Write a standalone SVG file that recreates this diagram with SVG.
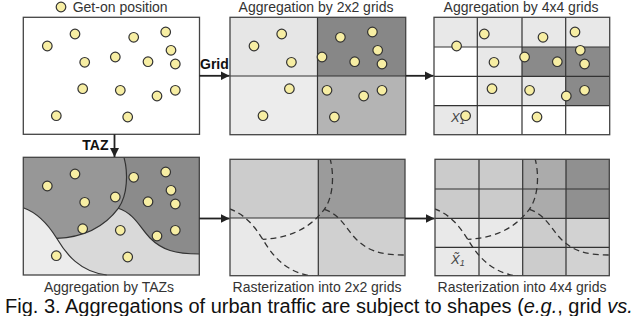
<svg xmlns="http://www.w3.org/2000/svg" width="640" height="316" viewBox="0 0 640 316">
<style>
.lbl{font-family:"Liberation Sans",Arial,sans-serif;font-size:14px;fill:#333}
.bold{font-family:"Liberation Sans",Arial,sans-serif;font-size:14px;font-weight:bold;fill:#111}
.cap{font-family:"Liberation Sans",Arial,sans-serif;font-size:20px;fill:#111}
.var{font-family:"Liberation Sans",Arial,sans-serif;font-size:13px;font-style:italic;fill:#444}
.frame{fill:none;stroke:#444;stroke-width:1.3}
.gl{stroke:#333;stroke-width:1.2;fill:none}
.pt{fill:#f7eea3;stroke:#333;stroke-width:1.2}
.taz{fill:none;stroke:#333;stroke-width:1.2}
.dash{fill:none;stroke:#333;stroke-width:1.3;stroke-dasharray:6 4}
.arr{stroke:#222;stroke-width:1.8;fill:none}
</style>
<defs>
<marker id="ah" viewBox="0 0 10 10" refX="10" refY="5" markerWidth="5" markerHeight="5" markerUnits="strokeWidth" orient="auto">
<path d="M0,0 L10,5 L0,10 z" fill="#222"/>
</marker>
<g id="pts">
<circle class="pt" cx="47.3" cy="46" r="4.8"/>
<circle class="pt" cx="75" cy="34" r="4.8"/>
<circle class="pt" cx="133.7" cy="37.3" r="4.8"/>
<circle class="pt" cx="165.7" cy="32" r="4.8"/>
<circle class="pt" cx="171" cy="50.3" r="4.8"/>
<circle class="pt" cx="115.3" cy="57" r="4.8"/>
<circle class="pt" cx="84.7" cy="62.3" r="4.8"/>
<circle class="pt" cx="148" cy="61.7" r="4.8"/>
<circle class="pt" cx="175.3" cy="64" r="4.8"/>
<circle class="pt" cx="82.7" cy="88.7" r="4.8"/>
<circle class="pt" cx="120.3" cy="90.3" r="4.8"/>
<circle class="pt" cx="157" cy="96" r="4.8"/>
<circle class="pt" cx="175.3" cy="90.3" r="4.8"/>
<circle class="pt" cx="56.3" cy="115.7" r="4.8"/>
<circle class="pt" cx="127.7" cy="117" r="4.8"/>
</g>
<g id="curves">
<path d="M124,157.3 C128,172 128,195 118.3,208.3 C108,222 90,237 56.7,238.3"/>
<path d="M23.3,207.7 C38,213 48,224 56.7,238.3 C66,254 80,272 106.7,275"/>
<path d="M118.3,208.3 C135,214 140,228 150,238 C162,250 175,254 199.3,254"/>
</g>
<clipPath id="cR2"><rect x="230" y="159.3" width="175" height="116.4"/></clipPath>
<clipPath id="cR4"><rect x="435" y="159.3" width="174.3" height="116.4"/></clipPath>
</defs>
<rect width="640" height="316" fill="#fff"/>

<g id="legend">
<circle class="pt" cx="61" cy="7" r="4.8"/>
<text class="lbl" x="72.7" y="12">Get-on position</text>
</g>

<g id="panel-points">
<rect x="23.3" y="17.3" width="176.2" height="117" fill="#fff"/>
<use href="#pts"/>
<rect class="frame" x="23.3" y="17.3" width="176.2" height="117"/>
</g>

<g id="panel-grid2">
<text class="lbl" x="316" y="12" text-anchor="middle">Aggregation by 2x2 grids</text>
<rect x="230" y="17.3" width="87.5" height="58.7" fill="#e6e6e6"/>
<rect x="317.5" y="17.3" width="88.2" height="58.7" fill="#878787"/>
<rect x="230" y="76" width="87.5" height="58.7" fill="#ececec"/>
<rect x="317.5" y="76" width="88.2" height="58.7" fill="#b4b4b4"/>
<path class="gl" d="M317.5,17.3 V134.7 M230,76 H405.7"/>
<use href="#pts" transform="translate(206.7,0)"/>
<rect class="frame" x="230" y="17.3" width="175.7" height="117.4"/>
</g>

<g id="panel-grid4">
<text class="lbl" x="521" y="12" text-anchor="middle">Aggregation by 4x4 grids</text>
<rect x="434" y="17.3" width="175.7" height="117.4" fill="#fff"/>
<rect x="434" y="17.3" width="175.7" height="29.7" fill="#e8e8e8"/>
<rect x="477.3" y="47" width="44.7" height="58.7" fill="#e8e8e8"/>
<rect x="522" y="47" width="87.7" height="29.3" fill="#8a8a8a"/>
<rect x="565.7" y="76.3" width="44" height="29.4" fill="#8a8a8a"/>
<rect x="522" y="76.3" width="43.7" height="29.4" fill="#e8e8e8"/>
<rect x="434" y="105.7" width="43.3" height="29" fill="#e8e8e8"/>
<text class="var" x="451" y="122">X<tspan font-size="9" dy="2">1</tspan></text>
<path class="gl" d="M477.3,17.3 V134.7 M522,17.3 V134.7 M565.7,17.3 V134.7 M434,47 H609.7 M434,76.3 H609.7 M434,105.7 H609.7"/>
<use href="#pts" transform="translate(409.3,0)"/>
<rect class="frame" x="434" y="17.3" width="175.7" height="117.4"/>
</g>

<g id="panel-taz">
<rect x="23.3" y="157.3" width="176" height="117.7" fill="#d9d9d9"/>
<path d="M23.3,157.3 L124,157.3 C128,172 128,195 118.3,208.3 C108,222 90,237 56.7,238.3 C48,224 38,213 23.3,207.7 Z" fill="#979797"/>
<path d="M124,157.3 L199.3,157.3 L199.3,254 C175,254 162,250 150,238 C140,228 135,214 118.3,208.3 C128,195 128,172 124,157.3 Z" fill="#8b8b8b"/>
<path d="M23.3,207.7 C38,213 48,224 56.7,238.3 C66,254 80,272 106.7,275 L23.3,275 Z" fill="#ececec"/>
<use href="#curves" class="taz"/>
<use href="#pts" transform="translate(0,140)"/>
<rect class="frame" x="23.3" y="157.3" width="176" height="117.7"/>
<text class="lbl" x="109" y="291.5" text-anchor="middle">Aggregation by TAZs</text>
</g>

<g id="panel-raster2">
<rect x="230" y="159.3" width="88.3" height="58.7" fill="#cccccc"/>
<rect x="318.3" y="159.3" width="86.7" height="58.7" fill="#9b9b9b"/>
<rect x="230" y="218" width="88.3" height="57.7" fill="#e9e9e9"/>
<rect x="318.3" y="218" width="86.7" height="57.7" fill="#d0d0d0"/>
<path class="gl" d="M318.3,159.3 V275.7 M230,218 H405"/>
<g clip-path="url(#cR2)"><use href="#curves" class="dash" transform="translate(206,1)"/></g>
<rect class="frame" x="230" y="159.3" width="175" height="116.4"/>
<text class="lbl" x="317" y="291.5" text-anchor="middle">Rasterization into 2x2 grids</text>
</g>

<g id="panel-raster4">
<rect x="435" y="159.3" width="87.7" height="59" fill="#cbcbcb"/>
<rect x="522.7" y="159.3" width="43.3" height="59" fill="#ababab"/>
<rect x="566" y="159.3" width="43.3" height="59" fill="#909090"/>
<rect x="435" y="218.3" width="87.7" height="57.4" fill="#e9e9e9"/>
<rect x="522.7" y="218.3" width="43.3" height="57.4" fill="#cccccc"/>
<rect x="566" y="218.3" width="43.3" height="57.4" fill="#d2d2d2"/>
<path class="gl" d="M479,159.3 V275.7 M522.7,159.3 V275.7 M566,159.3 V275.7 M435,189 H609.3 M435,218.3 H609.3 M435,247.3 H609.3"/>
<g clip-path="url(#cR4)"><use href="#curves" class="dash" transform="translate(411,1)"/></g>
<text class="var" x="451" y="264">X̃<tspan font-size="9" dy="2">1</tspan></text>
<rect class="frame" x="435" y="159.3" width="174.3" height="116.4"/>
<text class="lbl" x="522" y="291.5" text-anchor="middle">Rasterization into 4x4 grids</text>
</g>

<g id="connectors">
<line class="arr" x1="199.5" y1="75.8" x2="229.5" y2="75.8" marker-end="url(#ah)"/>
<line class="arr" x1="405.7" y1="75.8" x2="433.5" y2="75.8" marker-end="url(#ah)"/>
<line class="arr" x1="114.5" y1="134.3" x2="114.5" y2="157" marker-end="url(#ah)"/>
<line class="arr" x1="199.3" y1="218.5" x2="229.5" y2="218.5" marker-end="url(#ah)"/>
<line class="arr" x1="405" y1="218.5" x2="434.5" y2="218.5" marker-end="url(#ah)"/>
<text class="bold" x="200" y="69">Grid</text>
<text class="bold" x="82.3" y="150.3">TAZ</text>
</g>

<text class="cap" x="5" y="313.3">Fig. 3. Aggregations of urban traffic are subject to shapes (<tspan font-style="italic">e.g.</tspan>, grid <tspan font-style="italic">vs.</tspan></text>
</svg>
